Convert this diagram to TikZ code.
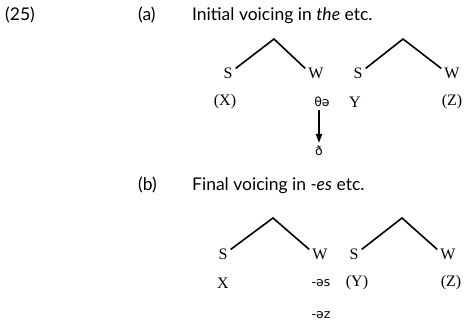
\documentclass[tikz,border=0pt]{standalone}
\usepackage{fontspec}
\setmainfont{Liberation Serif}
\newfontfamily\headfont{Lato}
\newfontfamily\ipafont{DejaVu Sans}
\usetikzlibrary{arrows.meta}
\begin{document}
\begin{tikzpicture}[x=1pt,y=-1pt,
  lab/.style={inner sep=0pt, font=\fontsize{16}{18}\selectfont},
  ipa/.style={inner sep=0pt, font=\ipafont\fontsize{12.5}{14}\selectfont},
  head/.style={inner sep=0pt, anchor=base west, font=\headfont\fontsize{17.5}{20}\selectfont},
  branch/.style={line width=1.6pt},
  derive/.style={line width=2pt, -{Triangle[length=9pt,width=6pt]}, shorten <=3pt, shorten >=3pt}]
\useasboundingbox (0,0) rectangle (465,322);
% headings
\node[head] (num) at (5,20) {(25)};
\node[head] (la) at (138,20) {(a)};
\node[head] (ta) at (192,20) {Initial voicing in \textit{the} etc.};
\node[head] (lb) at (138,190) {(b)};
\node[head] (tb) at (192,190) {Final voicing in \textit{-es} etc.};
% tree (a)
\node[lab] (s1) at (228,73) {S};
\node[lab] (w1) at (316,73) {W};
\node[lab] (s2) at (358,73) {S};
\node[lab] (w2) at (452,73) {W};
\coordinate (a1) at (274,39);
\coordinate (a2) at (403,39);
\draw[branch] ([xshift=3pt,yshift=-1pt]s1.north east) -- (a1) -- ([xshift=-3pt,yshift=-1pt]w1.north west);
\draw[branch] ([xshift=3pt,yshift=-1pt]s2.north east) -- (a2) -- ([xshift=-3pt,yshift=-1pt]w2.north west);
\node[lab] (x1) at (225,102) {(X)};
\node[ipa] (th) at (322,102) {θə};
\node[lab] (y1) at (355,102) {Y};
\node[lab] (z1) at (452,102) {(Z)};
\node[ipa] (eth) at (319,151) {ð};
\draw[derive] (th.south -| eth) -- (eth.north);
% tree (b)
\node[lab] (s3) at (223,254) {S};
\node[lab] (w3) at (320,254) {W};
\node[lab] (s4) at (354,254) {S};
\node[lab] (w4) at (448,254) {W};
\coordinate (a3) at (273,218);
\coordinate (a4) at (402,218);
\draw[branch] ([xshift=3pt,yshift=-1pt]s3.north east) -- (a3) -- ([xshift=-3pt,yshift=-1pt]w3.north west);
\draw[branch] ([xshift=3pt,yshift=-1pt]s4.north east) -- (a4) -- ([xshift=-3pt,yshift=-1pt]w4.north west);
\node[lab] (x2) at (223,283) {X};
\node[ipa] (es) at (321,283) {-əs};
\node[lab] (y2) at (357,283) {(Y)};
\node[lab] (z2) at (451,283) {(Z)};
\node[ipa] (ez) at (321,315) {-əz};
\end{tikzpicture}
\end{document}
